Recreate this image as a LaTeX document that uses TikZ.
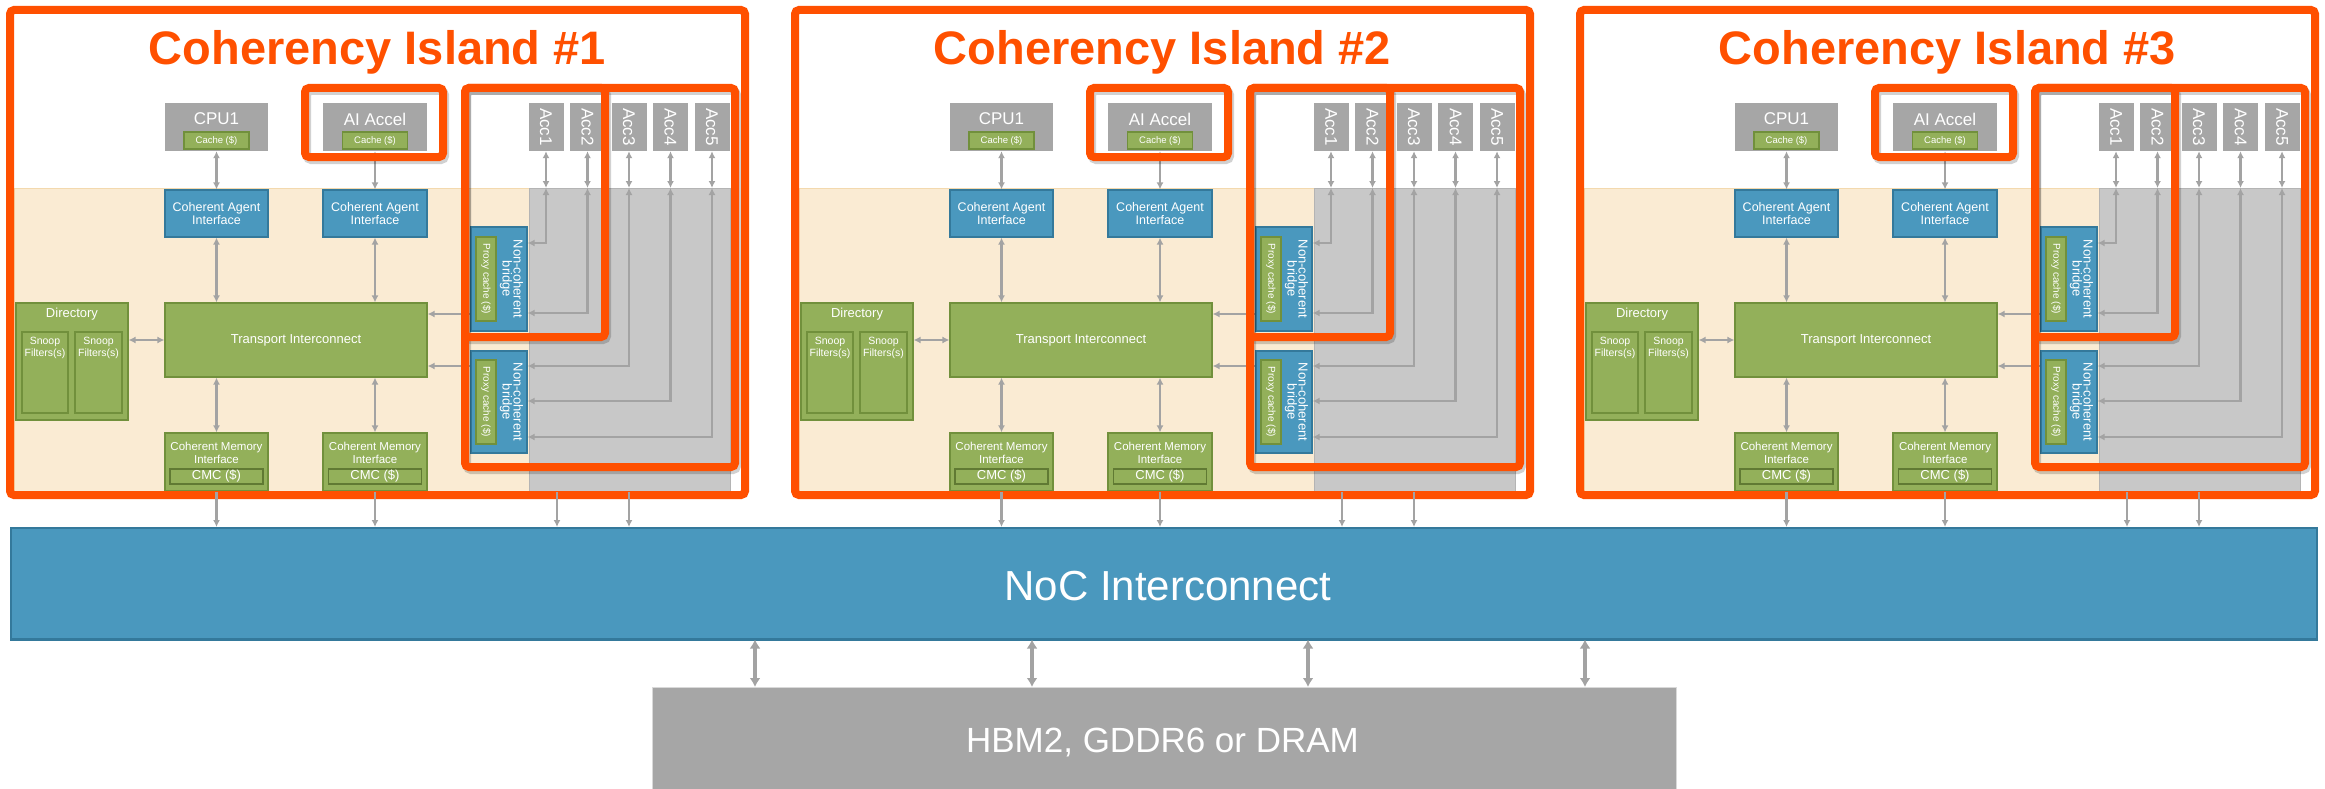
\documentclass[tikz,border=0pt]{standalone}
\usepackage{fontspec}
\setmainfont{Liberation Sans}
\usetikzlibrary{arrows.meta,calc}

\definecolor{isle}{HTML}{FF5000}
\definecolor{boxgray}{HTML}{A6A6A6}
\definecolor{regiongray}{HTML}{C8C8C8}
\definecolor{regionedge}{HTML}{B4B4B4}
\definecolor{sand}{HTML}{FAEBD3}
\definecolor{sandedge}{HTML}{F3D9AE}
\definecolor{leaf}{HTML}{93B05A}
\definecolor{leafedge}{HTML}{71903C}
\definecolor{sea}{HTML}{4A98BE}
\definecolor{seaedge}{HTML}{34799B}
\definecolor{wire}{HTML}{A3A3A3}

\newcommand\fsz[2]{\fontsize{#1}{#2}\selectfont}

\tikzset{
  graybox/.style={fill=boxgray, draw=none, inner sep=0pt, text=white, align=center},
  bluebox/.style={fill=sea, draw=seaedge, line width=1.2pt, inner sep=0pt, text=white, align=center},
  greenbox/.style={fill=leaf, draw=leafedge, line width=1.2pt, inner sep=0pt, text=white, align=center},
  lbl/.style={text=white, inner sep=0pt, align=center},
  link/.style={draw=wire, line width=2.2pt, arrows={Latex[length=7pt,width=7pt]-Latex[length=7pt,width=7pt]}},
  feed/.style={draw=wire, line width=2.2pt, arrows={-Latex[length=7pt,width=7pt]}},
  biglink/.style={draw=wire, line width=3.5pt, arrows={Latex[length=9pt,width=11pt]-Latex[length=9pt,width=11pt]}},
  frame/.style={draw=isle, line width=8pt, rounded corners=4pt},
  frameshade/.style={draw=black, opacity=0.18, line width=8pt, rounded corners=4pt},
  islandtitle/.style={text=isle, inner sep=0pt, font=\bfseries\fsz{47}{50}},
}

\begin{document}
\begin{tikzpicture}[x=1pt, y=-1pt]
\useasboundingbox (0,0) rectangle (2325,789);

\foreach \i/\dx in {1/0, 2/785, 3/1570} {
\begin{scope}[xshift=\dx pt]
  % agent area and accelerator channel area
  \node[fill=sand, draw=sandedge, line width=0.8pt, inner sep=0pt, minimum width=515, minimum height=303, anchor=north west] (tan\i) at (14,188) {};
  \node[fill=regiongray, draw=regionedge, line width=1pt, inner sep=0pt, minimum width=201, minimum height=303, anchor=north west] (gray\i) at (529,188) {};

  % processors
  \node[graybox, minimum width=103, minimum height=48] (cpu\i) at (216.5,127) {};
  \node[lbl, font=\fsz{17}{19}] (cpulbl\i) at (216.5,119) {CPU1};
  \node[greenbox, minimum width=65, minimum height=17, font=\fsz{9.5}{10}] (cpuc\i) at (216.5,140.5) {Cache (\$)};
  \node[graybox, minimum width=104, minimum height=48] (ai\i) at (375,127) {};
  \node[lbl, font=\fsz{17}{19}] (ailbl\i) at (375,119) {AI Accel};
  \node[greenbox, minimum width=65, minimum height=17, font=\fsz{9.5}{10}] (aic\i) at (375,140.5) {Cache (\$)};

  % accelerators
  \foreach \j in {1,...,5} {
    \node[graybox, minimum width=35, minimum height=48, font=\fsz{17}{19}] (acc\i\j) at ({546+41.5*(\j-1)},127) {\rotatebox{-90}{Acc\j}};
  }

  % coherent agent interfaces
  \node[bluebox, minimum width=103, minimum height=47, font=\fsz{12.5}{12.5}] (cai\i) at (216.5,213.5) {Coherent Agent\\Interface};
  \node[bluebox, minimum width=104, minimum height=47, font=\fsz{12.5}{12.5}] (caib\i) at (375,213.5) {Coherent Agent\\Interface};

  % transport and directory
  \node[greenbox, minimum width=262, minimum height=74, font=\fsz{13}{14}] (tr\i) at (296,340) {Transport Interconnect};
  \node[greenbox, minimum width=112, minimum height=117] (dir\i) at (72,361.5) {};
  \node[lbl, font=\fsz{13}{14}] (dirlbl\i) at (72,314) {Directory};
  \node[greenbox, minimum width=46, minimum height=81] (sfa\i) at (45,372.5) {};
  \node[greenbox, minimum width=47, minimum height=81] (sfb\i) at (98.5,372.5) {};
  \node[lbl, font=\fsz{10.5}{12}] (sfalbl\i) at (45,348) {Snoop\\Filters(s)};
  \node[lbl, font=\fsz{10.5}{12}] (sfblbl\i) at (98.5,348) {Snoop\\Filters(s)};

  % coherent memory interfaces
  \node[greenbox, minimum width=103, minimum height=58] (cmi\i) at (216.5,462) {};
  \node[lbl, font=\fsz{11.5}{13}] (cmilbl\i) at (216.5,452.5) {Coherent Memory\\Interface};
  \node[greenbox, minimum width=93, minimum height=15, draw=leafedge!85!black, font=\fsz{13}{14}] (cmc\i) at (216.5,476.5) {CMC (\$)};
  \node[greenbox, minimum width=104, minimum height=58] (cmib\i) at (375,462) {};
  \node[lbl, font=\fsz{11.5}{13}] (cmiblbl\i) at (375,452.5) {Coherent Memory\\Interface};
  \node[greenbox, minimum width=93, minimum height=15, draw=leafedge!85!black, font=\fsz{13}{14}] (cmcb\i) at (375,476.5) {CMC (\$)};

  % non-coherent bridges
  \node[bluebox, minimum width=56, minimum height=104] (bra\i) at (499,279) {};
  \node[greenbox, minimum width=20, minimum height=84, font=\fsz{10}{11}] (pxa\i) at (486,279) {\rotatebox{-90}{Proxy cache (\$)}};
  \node[lbl, font=\fsz{13}{14}] (bralbl\i) at (511,279) {\rotatebox{-90}{\begin{tabular}{@{}c@{}}Non-coherent\\[-3pt]bridge\end{tabular}}};
  \node[bluebox, minimum width=56, minimum height=102] (brb\i) at (499,402) {};
  \node[greenbox, minimum width=20, minimum height=84, font=\fsz{10}{11}] (pxb\i) at (486,402) {\rotatebox{-90}{Proxy cache (\$)}};
  \node[lbl, font=\fsz{13}{14}] (brblbl\i) at (511,402) {\rotatebox{-90}{\begin{tabular}{@{}c@{}}Non-coherent\\[-3pt]bridge\end{tabular}}};

  % connections inside the island
  \draw[link] (cpu\i.south) -- (cai\i.north);
  \draw[link] (ai\i.south) -- (caib\i.north);
  \draw[link] (cai\i.south) -- (cai\i.south |- tr\i.north);
  \draw[link] (caib\i.south) -- (caib\i.south |- tr\i.north);
  \draw[link] (tr\i.south -| cmi\i.north) -- (cmi\i.north);
  \draw[link] (tr\i.south -| cmib\i.north) -- (cmib\i.north);
  \draw[link] (dir\i.east |- tr\i.west) -- (tr\i.west);
  \draw[feed] (bra\i.west |- 0,314) -- (tr\i.east |- 0,314);
  \draw[feed] (brb\i.west |- 0,366) -- (tr\i.east |- 0,366);

  % accelerator channels
  \foreach \j in {1,...,5} {
    \draw[link] (acc\i\j.south) -- (acc\i\j.south |- gray\i.north);
  }
  \draw[link] (acc\i1.south |- gray\i.north) |- (bra\i.east |- 0,243);
  \draw[link] (acc\i2.south |- gray\i.north) |- (bra\i.east |- 0,313);
  \draw[link] (acc\i3.south |- gray\i.north) |- (brb\i.east |- 0,366);
  \draw[link] (acc\i4.south |- gray\i.north) |- (brb\i.east |- 0,401);
  \draw[link] (acc\i5.south |- gray\i.north) |- (brb\i.east |- 0,437);

  % island outlines
  \draw[frameshade] (307,91) rectangle (445,160);
  \draw[frameshade] (467,91) rectangle (737,470);
  \draw[frameshade] (467,91) rectangle (607,340);
  \draw[frame] (305,88) rectangle (443,157);
  \draw[frame] (465,88) rectangle (735,467);
  \draw[frame] (465,88) rectangle (605,337);
  \draw[frame] (10,10) rectangle (745,495);

  \node[islandtitle, anchor=base] (title\i) at (377.5,65) {Coherency Island \#\i};
\end{scope}
}

% network on chip
\node[fill=sea, draw=seaedge, line width=1.5pt, inner sep=0pt, minimum width=2306, minimum height=111, anchor=north west] (noc) at (10,527) {};
\draw[seaedge, line width=3pt] (noc.south west) -- (noc.south east);
\node[lbl, anchor=base, font=\fsz{42}{44}] (noclbl) at (1168,600) {NoC Interconnect};

\foreach \i/\dx in {1/0, 2/785, 3/1570} {
\begin{scope}[xshift=\dx pt]
  \draw[feed] (cmi\i.south) -- (cmi\i.south |- noc.north);
  \draw[feed] (cmib\i.south) -- (cmib\i.south |- noc.north);
  \draw[feed] (gray\i.south -| 557,0) -- (noc.north -| 557,0);
  \draw[feed] (gray\i.south -| 629,0) -- (noc.north -| 629,0);
\end{scope}
}

% off-chip memory
\node[fill=boxgray, draw=black!15, line width=1pt, inner sep=0pt, minimum width=1024, minimum height=120, anchor=north west] (mem) at (652,687) {};
\node[lbl, anchor=base, font=\fsz{35}{37}] (memlbl) at (1162.5,752) {HBM2, GDDR6 or DRAM};

\foreach \x in {755,1032,1308,1585} {
  \draw[biglink] (noc.south -| \x,0) -- (mem.north -| \x,0);
}
\end{tikzpicture}
\end{document}
